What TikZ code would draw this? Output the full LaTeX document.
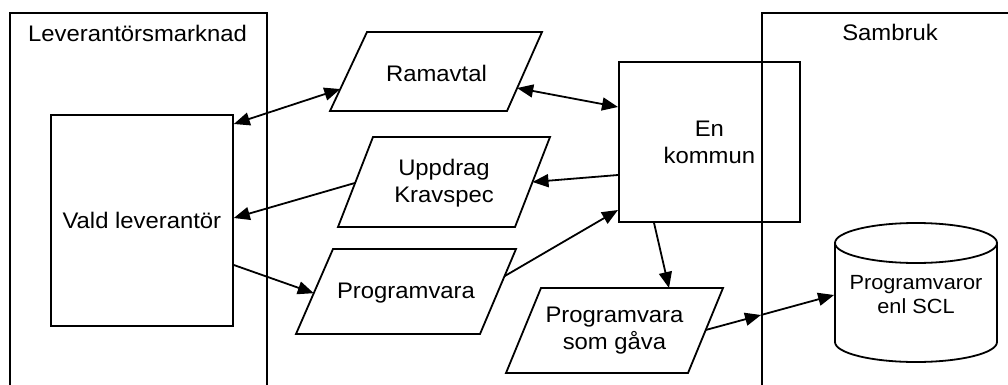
\documentclass[tikz,border=0pt]{standalone}
\usepackage{fontspec}
\setmainfont{Liberation Sans}[FakeStretch=1.06]
\usetikzlibrary{arrows.meta,calc}
\begin{document}
\begin{tikzpicture}[x=1pt,y=-1pt,line width=1.8pt,
  box/.style={draw, rectangle, inner sep=0pt, anchor=north west, align=center,
    font=\fontsize{22.5}{27}\selectfont},
  lbl/.style={font=\fontsize{22.5}{27}\selectfont, align=center, inner sep=0pt},
  smalllbl/.style={font=\fontsize{20.5}{24}\selectfont, align=center, inner sep=0pt},
  conn/.style={-{Triangle[length=16pt,width=13pt]}},
  dconn/.style={{Triangle[length=16pt,width=13pt]}-{Triangle[length=16pt,width=13pt]}}]
\useasboundingbox (0,0) rectangle (1008,385);

% frames
\node[box, minimum width=257pt, minimum height=390pt] (lev) at (9,12) {};
\node[lbl] (levt) at (137.5,33) {Leverantörsmarknad};
\node[box, minimum width=260pt, minimum height=390pt] (sam) at (761,12) {};
\node[lbl] (samt) at (890,32) {Sambruk};

% boxes
\node[box, minimum width=182pt, minimum height=211pt] (vald) at (50,114) {Vald leverantör};
\node[box, minimum width=181pt, minimum height=160pt] (kom) at (618,61) {En\\kommun};

% parallelograms
\coordinate (ramBL) at (330,111); \coordinate (ramBR) at (507,111);
\coordinate (ramTR) at (542,32);  \coordinate (ramTL) at (367,32);
\draw (ramBL) -- (ramBR) -- (ramTR) -- (ramTL) -- cycle;
\node[lbl] (ram) at (436.5,73) {Ramavtal};

\coordinate (updBL) at (338,227); \coordinate (updBR) at (515,227);
\coordinate (updTR) at (550,137); \coordinate (updTL) at (373,137);
\draw (updBL) -- (updBR) -- (updTR) -- (updTL) -- cycle;
\node[lbl] (upd) at (444,183) {Uppdrag\\Kravspec};

\coordinate (prgBL) at (296,334); \coordinate (prgBR) at (480,334);
\coordinate (prgTR) at (516,249); \coordinate (prgTL) at (333,249);
\draw (prgBL) -- (prgBR) -- (prgTR) -- (prgTL) -- cycle;
\node[lbl] (prg) at (406,293) {Programvara};

\coordinate (gavBL) at (506,373); \coordinate (gavBR) at (688,373);
\coordinate (gavTR) at (723,288); \coordinate (gavTL) at (541,288);
\draw (gavBL) -- (gavBR) -- (gavTR) -- (gavTL) -- cycle;
\node[lbl] (gav) at (614.5,331) {Programvara\\som gåva};

% cylinder
\draw (835,243) -- (835,342) arc[start angle=180, end angle=0, x radius=81, y radius=20] -- (997,243);
\draw (916,243) ellipse[x radius=81, y radius=20];
\node[smalllbl, minimum width=162pt] (db) at (916,295) {Programvaror\\enl SCL};

% connectors
\draw[dconn] ($(vald.north east)+(0,10)$) -- ($(ramBL)!0.278!(ramTL)$);
\draw[dconn] ($(ramBR)!0.291!(ramTR)$) -- ($(kom.north west)+(0,46)$);
\draw[conn] ($(kom.north west)+(0,114)$) -- ($(updBR)!0.5!(updTR)$);
\draw[conn] ($(updBL)!0.49!(updTL)$) -- ($(vald.north east)+(0,104)$);
\draw[conn] ($(vald.north east)+(0,151)$) -- ($(prgBL)!0.48!(prgTL)$);
\draw[conn] ($(prgBR)!0.68!(prgTR)$) -- ($(kom.north west)+(0,149)$);
\draw[conn] ($(kom.south west)+(36,0)$) -- ($(gavTL)+(128,0)$);
\coordinate (mid) at (761,315);
\draw[conn] ($(gavBR)!0.506!(gavTR)$) -- (mid);
\draw[conn] (mid) -- (db.west);
\end{tikzpicture}
\end{document}
